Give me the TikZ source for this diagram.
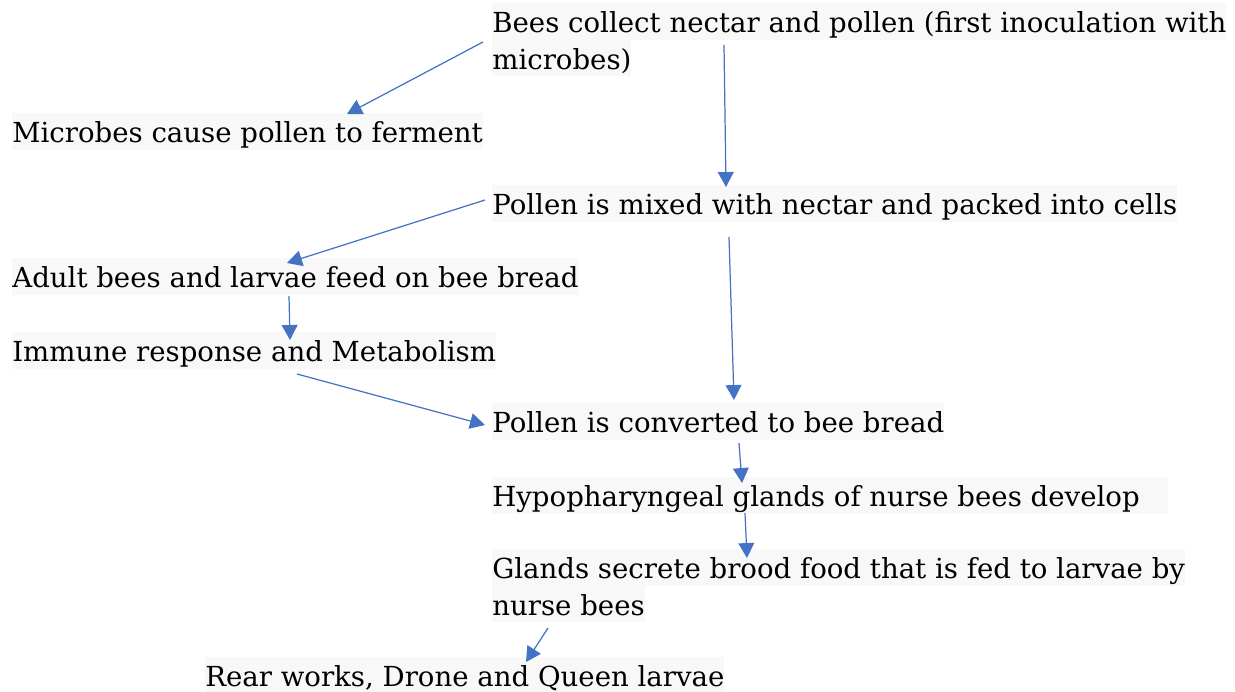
\documentclass[tikz,border=0pt]{standalone}
\usepackage{fontspec}
\setmainfont{DejaVu Serif}
\usetikzlibrary{arrows.meta, calc}

\definecolor{flowblue}{HTML}{4472C4}
\definecolor{hlgray}{HTML}{F8F8F8}
\setlength{\fboxsep}{0pt}
\newcommand{\hlline}[1]{\colorbox{hlgray}{\rule[-4pt]{0pt}{20.8pt}#1}}

\begin{document}
\begin{tikzpicture}[x=0.02cm, y=-0.02cm,
		step text/.style={anchor=north west, inner sep=0pt, align=left,
			font=\fontsize{15.7pt}{20.8pt}\selectfont},
		flow/.style={-{Triangle[length=8.5pt, width=9pt]}, flowblue, line width=0.7pt}]
			\useasboundingbox (0,0) rectangle (1235,692);

			% Right column of steps
			\node[step text] (bees) at (492,3) {\hlline{Bees collect nectar and pollen (first inoculation with}\\\hlline{microbes)}};
			\node[step text] (mixed) at (492,185) {\hlline{Pollen is mixed with nectar and packed into cells}};
			\node[step text] (converted) at (492,403) {\hlline{Pollen is converted to bee bread}};
			\node[step text] (glands) at (492,477) {\hlline{Hypopharyngeal glands of nurse bees develop\hspace{16pt}}};
			\node[step text] (secrete) at (492,549) {\hlline{Glands secrete brood food that is fed to larvae by}\\\hlline{nurse bees}};

			% Left column of steps
			\node[step text] (ferment) at (12,113) {\hlline{Microbes cause pollen to ferment}};
			\node[step text] (adult) at (12,258) {\hlline{Adult bees and larvae feed on bee bread}};
			\node[step text] (immune) at (12,332) {\hlline{Immune response and Metabolism}};
			\node[step text] (rear) at (205,657) {\hlline{Rear works, Drone and Queen larvae}};

			% Draw the arrows between the steps
			\draw[flow] ($(bees.north west)+(-9,39)$) -- ($(ferment.north west)+(335,1)$);
			\draw[flow] ($(bees.north west)+(232,42)$) -- ($(mixed.north west)+(234,2)$);
			\draw[flow] ($(mixed.north west)+(-7,15)$) -- ($(adult.north west)+(275,5)$);
			\draw[flow] ($(mixed.north west)+(237,52)$) -- ($(converted.north west)+(242,-3)$);
			\draw[flow] ($(adult.north west)+(277,38)$) -- ($(immune.north west)+(278,8)$);
			\draw[flow] ($(immune.north west)+(285,42)$) -- ($(converted.north west)+(-7,22)$);
			\draw[flow] ($(converted.north west)+(247,40)$) -- ($(glands.north west)+(250,6)$);
			\draw[flow] ($(glands.north west)+(253,36)$) -- ($(secrete.north west)+(255,9)$);
			\draw[flow] ($(secrete.north west)+(56,79)$) -- ($(rear.north west)+(321,5)$);

		\end{tikzpicture}
\end{document}
